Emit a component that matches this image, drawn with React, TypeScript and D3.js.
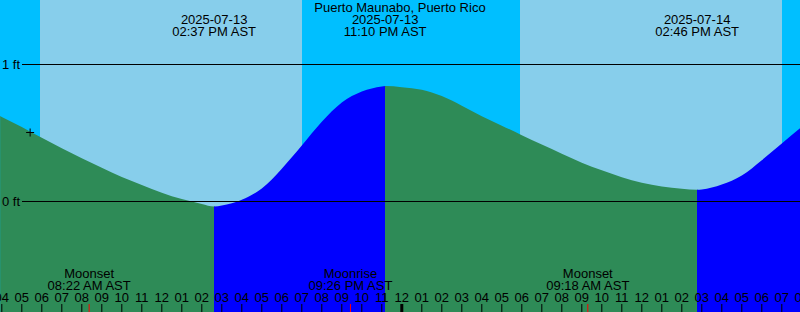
import React from "react";
import * as d3 from "d3";

const title = "Puerto Maunabo, Puerto Rico";
const xDomain = ["2025-07-13T03:54:36", "2025-07-14T19:54:36"];

// tide heights (ft), hourly plus the left edge
const tideTimes = [
  "2025-07-13T03:55",
  "2025-07-13T04:00", "2025-07-13T05:00", "2025-07-13T06:00", "2025-07-13T07:00",
  "2025-07-13T08:00", "2025-07-13T09:00", "2025-07-13T10:00", "2025-07-13T11:00",
  "2025-07-13T12:00", "2025-07-13T13:00", "2025-07-13T14:00", "2025-07-13T15:00",
  "2025-07-13T16:00", "2025-07-13T17:00", "2025-07-13T18:00", "2025-07-13T19:00",
  "2025-07-13T20:00", "2025-07-13T21:00", "2025-07-13T22:00", "2025-07-13T23:00",
  "2025-07-14T00:00", "2025-07-14T01:00", "2025-07-14T02:00", "2025-07-14T03:00",
  "2025-07-14T04:00", "2025-07-14T05:00", "2025-07-14T06:00", "2025-07-14T07:00",
  "2025-07-14T08:00", "2025-07-14T09:00", "2025-07-14T10:00", "2025-07-14T11:00",
  "2025-07-14T12:00", "2025-07-14T13:00", "2025-07-14T14:00", "2025-07-14T15:00",
  "2025-07-14T16:00", "2025-07-14T17:00", "2025-07-14T18:00", "2025-07-14T19:00",
  "2025-07-14T20:00",
];
const tideHeights = [
  0.62,
  0.614, 0.54, 0.461, 0.385, 0.312, 0.242, 0.175, 0.117,
  0.061, 0.014, -0.021, -0.032, 0.009, 0.091, 0.236, 0.405,
  0.578, 0.719, 0.799, 0.836, 0.831, 0.812, 0.766, 0.696,
  0.619, 0.55, 0.48, 0.412, 0.345, 0.28, 0.224, 0.174,
  0.134, 0.106, 0.089, 0.084, 0.12, 0.186, 0.298, 0.42,
  0.542,
];

const tideEventTimes = ["2025-07-13T14:37", "2025-07-13T23:10", "2025-07-14T14:46"];
const tideEventHeights = [-0.04, 0.839, 0.082];
const tideEventTypes = ["Low", "High", "Low"];

const moonEventTimes = ["2025-07-13T08:22", "2025-07-13T21:26", "2025-07-14T09:18"];
const moonEventNames = ["Moonset", "Moonrise", "Moonset"];

const sunEventTimes = ["2025-07-13T05:55", "2025-07-13T19:01", "2025-07-14T05:55", "2025-07-14T19:01"];
const sunEventTypes = ["Sunrise", "Sunset", "Sunrise", "Sunset"];

const yTicks = [0, 1];
const markTime = "2025-07-13T05:25";
const markHeight = 0.5;

const W = 800;
const H = 312;
const FONT = "'Liberation Sans', Arial, sans-serif";
const DAY = "#87CEEB";
const NIGHT = "#00BFFF";
const FALL = "#2E8B57";
const RISE = "#0000FF";

const parseM = d3.utcParse("%Y-%m-%dT%H:%M");
const parseS = d3.utcParse("%Y-%m-%dT%H:%M:%S");
const fmtDate = d3.utcFormat("%Y-%m-%d");
const fmtTime = (d: Date) => d3.utcFormat("%I:%M %p")(d) + " AST";
const fmtHour = d3.utcFormat("%I");

export default function App() {
  const start = parseS(xDomain[0]) as Date;
  const end = parseS(xDomain[1]) as Date;
  const x = d3.scaleUtc().domain([start, end]).range([0, W]);
  const y = d3.scaleLinear().domain([0, 1]).range([201, 64]);

  const events = tideEventTimes.map((t, i) => ({
    t: parseM(t) as Date,
    v: tideEventHeights[i],
    type: tideEventTypes[i],
  }));
  const pts = tideTimes
    .map((t, i) => ({ t: parseM(t) as Date, v: tideHeights[i] }))
    .concat(events.map((e) => ({ t: e.t, v: e.v })))
    .sort((a, b) => +a.t - +b.t);

  const area = d3
    .area<{ t: Date; v: number }>()
    .x((d) => x(d.t))
    .y0(H)
    .y1((d) => y(d.v))
    .curve(d3.curveMonotoneX);
  const areaPath = area(pts) || "";

  const bounds = [start, ...events.map((e) => e.t), end];
  const last = bounds.length - 2;
  const segs = bounds.slice(0, -1).map((b, i) => {
    let color;
    if (i < events.length) color = events[i].type === "Low" ? FALL : RISE;
    else color = events[events.length - 1].type === "Low" ? RISE : FALL;
    const x0 = i === 0 ? -5 : Math.round(x(b));
    const x1 = i === last ? W + 5 : Math.round(x(bounds[i + 1])) + 1;
    return { x0, x1, color };
  });

  // day / night bands
  const sun = sunEventTimes.map((t, i) => ({ t: parseM(t) as Date, type: sunEventTypes[i] }));
  const sunBounds = [start, ...sun.map((s) => s.t), end];
  const bands = sunBounds.slice(0, -1).map((b, i) => {
    let night;
    if (i < sun.length) night = sun[i].type === "Sunrise";
    else night = sun[sun.length - 1].type === "Sunset";
    return { x0: x(b), x1: x(sunBounds[i + 1]), fill: night ? NIGHT : DAY };
  });

  const hours = d3.utcHour.range(
    d3.utcHour.offset(d3.utcHour.floor(start), -1),
    d3.utcHour.offset(d3.utcHour.ceil(end), 2)
  );

  const moons = moonEventTimes.map((t, i) => ({ t: parseM(t) as Date, name: moonEventNames[i] }));
  const mt = parseM(markTime) as Date;

  return (
    <div style={{ position: "absolute", left: 0, top: 0 }}>
      <svg width={W} height={H} style={{ display: "block" }} fontFamily={FONT} fontSize={13}>
        <defs>
          {segs.map((s, i) => (
            <clipPath id={"seg" + i} key={i}>
              <rect x={s.x0} y={0} width={s.x1 - s.x0} height={H} />
            </clipPath>
          ))}
        </defs>
        {bands.map((b, i) => (
          <rect key={i} x={b.x0} y={0} width={b.x1 - b.x0} height={H} fill={b.fill} shapeRendering="crispEdges" />
        ))}
        {segs.map((s, i) => (
          <path key={i} d={areaPath} fill={s.color} clipPath={`url(#seg${i})`} />
        ))}
        {yTicks.map((v) => (
          <g key={v}>
            <line x1={22} x2={W} y1={y(v)} y2={y(v)} stroke="#000" strokeWidth={1} shapeRendering="crispEdges" />
            <text x={20} y={y(v) + 4.5} textAnchor="end" fill="#000">
              {v} ft
            </text>
          </g>
        ))}
        <text x={W / 2} y={12} textAnchor="middle" fill="#000">
          {title}
        </text>
        {events.map((e, i) => (
          <g key={i}>
            <text x={x(e.t)} y={24} textAnchor="middle" fill="#000">
              {fmtDate(e.t)}
            </text>
            <text x={x(e.t)} y={36} textAnchor="middle" fill="#000">
              {fmtTime(e.t)}
            </text>
          </g>
        ))}
        {moons.map((m, i) => (
          <g key={i}>
            <text x={x(m.t)} y={278} textAnchor="middle" fill="#000">
              {m.name}
            </text>
            <text x={x(m.t)} y={290} textAnchor="middle" fill="#000">
              {fmtTime(m.t)}
            </text>
          </g>
        ))}
        {hours.map((h, i) => {
          const isMid = h.getUTCHours() === 0;
          return (
            <g key={i}>
              <text x={x(h)} y={302} textAnchor="middle" fill="#000">
                {fmtHour(h)}
              </text>
              <line
                x1={x(h)}
                x2={x(h)}
                y1={304}
                y2={H}
                stroke="#000"
                strokeWidth={isMid ? 3 : 1}
              />
            </g>
          );
        })}
        {moons.map((m, i) => (
          <line key={i} x1={x(m.t)} x2={x(m.t)} y1={304} y2={H} stroke="#FF0000" strokeWidth={1} />
        ))}
        <g stroke="#000" strokeWidth={1}>
          <line x1={x(mt) - 4} x2={x(mt) + 4} y1={y(markHeight)} y2={y(markHeight)} />
          <line x1={x(mt)} x2={x(mt)} y1={y(markHeight) - 4} y2={y(markHeight) + 4} />
        </g>
      </svg>
    </div>
  );
}
